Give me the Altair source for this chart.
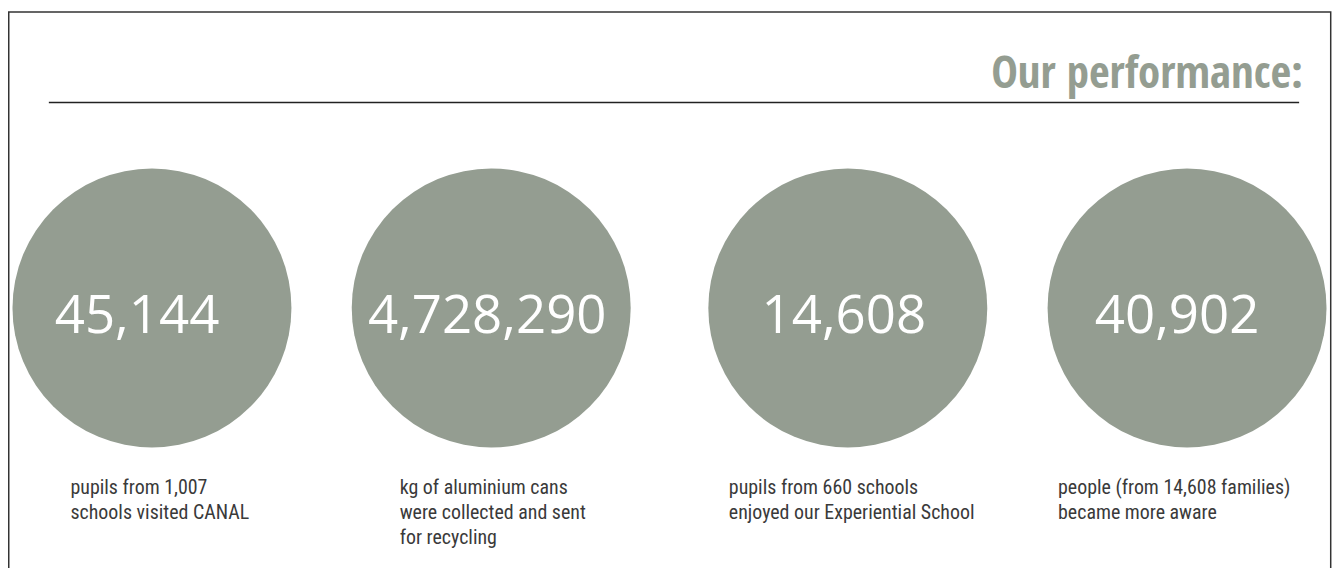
import altair as alt
import pandas as pd

# ---- data ----
categories = ["pupils", "cans", "experiential", "people"]
values = ["45,144", "4,728,290", "14,608", "40,902"]
descriptions = [
    "pupils from 1,007\nschools visited CANAL",
    "kg of aluminium cans\nwere collected and sent\nfor recycling",
    "pupils from 660 schools\nenjoyed our Experiential School",
    "people (from 14,608 families)\nbecame more aware",
]
title_text = "Our performance:"

df = pd.DataFrame({"cat": categories, "value": values, "desc": descriptions})

# ---- layout (chart pixel coords; page = chart + 8) ----
W, H = 1330, 560
GREEN = "#949d91"
circle_x = alt.X("cat:N", sort=categories, axis=None,
                 scale=alt.Scale(type="point", range=[144.5, 1183.5], padding=0))
label_x = alt.X("cat:N", sort=categories, axis=None,
                scale=alt.Scale(type="point", range=[62.7, 1054], padding=0))
circle_dx = {"pupils": 0, "cans": -5.8, "experiential": 5.8, "people": 0}
number_dx = {"pupils": -15, "cans": -4, "experiential": -4, "people": -10}
CIRCLE_SIZE = 280 * 280  # vega symbol size = (diameter)^2

base = alt.Chart(df)
one = alt.Chart(pd.DataFrame({"k": [0]}))

layers = []
for c in categories:
    sub = base.transform_filter(alt.datum.cat == c)
    layers.append(sub.mark_point(shape="circle", filled=True, size=CIRCLE_SIZE, color=GREEN,
                                 opacity=1, strokeWidth=0).encode(
        x=circle_x, xOffset=alt.value(circle_dx[c]), y=alt.value(300)))
    layers.append(sub.mark_text(font="Open Sans", fontSize=53, color="white", align="center",
                                baseline="alphabetic", dx=circle_dx[c] + number_dx[c]).encode(
        x=circle_x, y=alt.value(325), text="value:N"))

circles = alt.layer(*layers)

labels = base.mark_text(font="Roboto Condensed", fontSize=20, color="#3a3a3a", align="left",
                        baseline="alphabetic", lineBreak="\n", lineHeight=25).encode(
    x=label_x, y=alt.value(487), text="desc:N")

title = one.mark_text(text=title_text, font="Open Sans Condensed", fontWeight="bold", fontSize=45,
                      color=GREEN, align="right", baseline="alphabetic").encode(
    x=alt.value(1300), y=alt.value(79))

rule = one.mark_rule(color="#222222", strokeWidth=1.5).encode(
    x=alt.value(41), x2=alt.value(1296), y=alt.value(93.7))

border = one.mark_rect(fill=None, fillOpacity=0, stroke="#333333", strokeWidth=1.5).encode(
    x=alt.value(0.75), x2=alt.value(1327.7), y=alt.value(3), y2=alt.value(620))

chart = alt.layer(border, rule, title, circles, labels).resolve_scale(x="independent").properties(
    width=W, height=H, padding=0, autosize="none"
).configure_view(strokeWidth=0)

chart.save("out.html", embed_options={"renderer": "svg", "actions": False})
